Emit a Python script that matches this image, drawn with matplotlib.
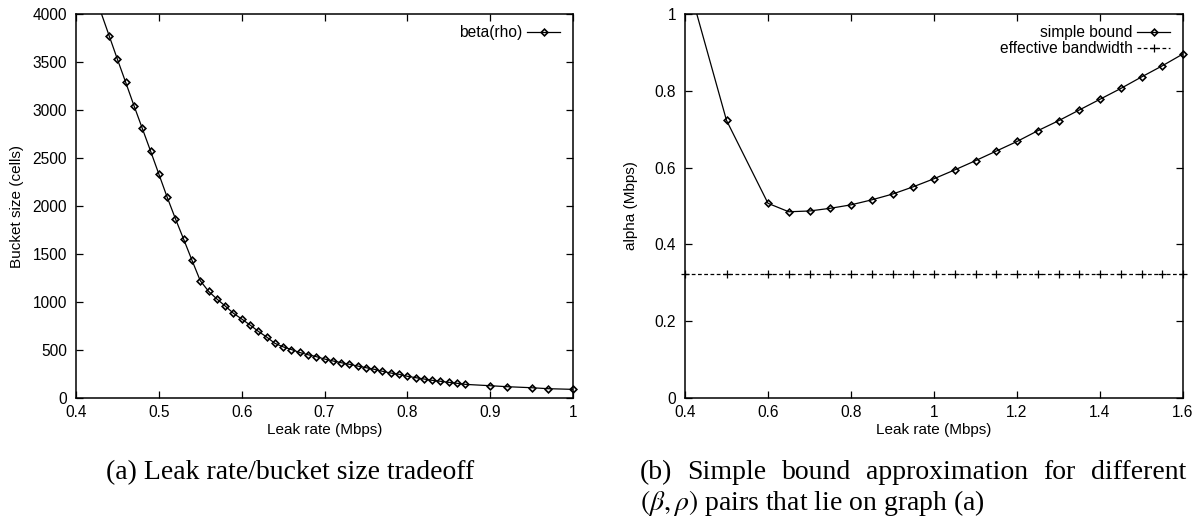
import matplotlib
matplotlib.use("Agg")
import matplotlib.pyplot as plt
import numpy as np
from matplotlib.lines import Line2D

# (a) bucket size needed for each leak rate
leak_rate_a = [0.42, 0.44, 0.45, 0.46, 0.47, 0.48, 0.49, 0.50, 0.51,
               0.52, 0.53, 0.54, 0.55, 0.56, 0.57, 0.58, 0.59, 0.60,
               0.61, 0.62, 0.63, 0.64, 0.65, 0.66, 0.67, 0.68, 0.69,
               0.70, 0.71, 0.72, 0.73, 0.74, 0.75, 0.76, 0.77, 0.78,
               0.79, 0.80, 0.81, 0.82, 0.83, 0.84, 0.85, 0.86, 0.87,
               0.90, 0.92, 0.95, 0.97, 1.00]
bucket_size = [4266, 3774, 3528, 3288, 3045, 2809, 2573, 2333, 2093,
               1868, 1653, 1435, 1222, 1112, 1032, 959, 883, 823,
               761, 695, 636, 570, 533, 505, 474, 451, 431,
               406, 386, 368, 351, 333, 316, 299, 278, 260,
               247, 226, 212, 198, 184, 174, 163, 153, 142,
               128, 118, 107, 97, 90]

# (b) simple bound vs. effective bandwidth
leak_rate_b = [0.40, 0.50, 0.60, 0.65, 0.70, 0.75, 0.80, 0.85, 0.90,
               0.95, 1.00, 1.05, 1.10, 1.15, 1.20, 1.25, 1.30, 1.35,
               1.40, 1.45, 1.50, 1.55, 1.60]
simple_bound = [1.110, 0.723, 0.507, 0.485, 0.487, 0.494, 0.503, 0.516,
                0.531, 0.550, 0.571, 0.594, 0.618, 0.643, 0.668, 0.696,
                0.722, 0.750, 0.778, 0.806, 0.836, 0.865, 0.896]
effective_bandwidth = [0.322, 0.322, 0.322, 0.322, 0.322, 0.322, 0.322,
                       0.322, 0.322, 0.322, 0.322, 0.322, 0.322, 0.322,
                       0.322, 0.322, 0.322, 0.322, 0.322, 0.322, 0.322,
                       0.322, 0.322]

xticks_a = [0.4, 0.5, 0.6, 0.7, 0.8, 0.9, 1.0]
xticklabels_a = ["0.4", "0.5", "0.6", "0.7", "0.8", "0.9", "1"]
yticks_a = [0, 500, 1000, 1500, 2000, 2500, 3000, 3500, 4000]
xticks_b = [0.4, 0.6, 0.8, 1.0, 1.2, 1.4, 1.6]
xticklabels_b = ["0.4", "0.6", "0.8", "1", "1.2", "1.4", "1.6"]
yticks_b = [0, 0.2, 0.4, 0.6, 0.8, 1.0]
yticklabels_b = ["0", "0.2", "0.4", "0.6", "0.8", "1"]

W, H = 1201, 525
plt.rcParams["font.family"] = ["Liberation Sans", "DejaVu Sans"]
plt.rcParams["mathtext.fontset"] = "stix"

fig = plt.figure(figsize=(W / 100, H / 100), dpi=100)


def px_axes(x0, y0, x1, y1):
    return fig.add_axes([x0 / W, 1 - y1 / H, (x1 - x0) / W, (y1 - y0) / H])


ax_a = px_axes(76, 14, 573, 398)
ax_b = px_axes(685, 14, 1183, 398)

tick_fs = 11.2
label_fs = 11

for ax in (ax_a, ax_b):
    ax.tick_params(direction="in", length=5, width=0.9, top=True, right=True,
                   labelsize=tick_fs, colors="black")
    ax.tick_params(axis="y", pad=6.5)
    ax.tick_params(axis="x", pad=5)
    for s in ax.spines.values():
        s.set_linewidth(1.1)

MS = 3.4
MEW = 1.2


def draw_series(ax, x, y, ymax, marker, ms, dashes=None):
    y = np.asarray(y, dtype=float)
    kw = dict(color="black", lw=0.9)
    if dashes is not None:
        kw["dashes"] = dashes
    ax.plot(x, y, **kw)
    inside = np.ma.masked_greater(y, ymax)
    ax.plot(x, inside, ls="none", marker=marker, ms=ms, mec="black",
            mfc="none", mew=MEW if marker == "D" else 0.9, clip_on=False,
            zorder=3)


# (a)
draw_series(ax_a, leak_rate_a, bucket_size, 4000, "D", MS)
ax_a.set_xlim(0.4, 1.0)
ax_a.set_ylim(0, 4000)
ax_a.set_xticks(xticks_a)
ax_a.set_xticklabels(xticklabels_a)
ax_a.set_yticks(yticks_a)
ax_a.set_xlabel("Leak rate (Mbps)", fontsize=label_fs, labelpad=2)
ax_a.set_ylabel("Bucket size (cells)", fontsize=label_fs, labelpad=6)

h_a = [Line2D([], [], color="black", lw=0.9, marker="D", ms=MS,
              mfc="none", mec="black", mew=MEW)]
ax_a.legend(h_a, ["beta(rho)"], loc="upper right", frameon=False,
            markerfirst=False, fontsize=tick_fs, handlelength=2.1,
            handletextpad=0.3, borderpad=0, borderaxespad=0,
            bbox_to_anchor=(1 - 13 / 497, 1 - 11 / 384), numpoints=1)

# (b)
draw_series(ax_b, leak_rate_b, simple_bound, 1.0, "D", MS)
draw_series(ax_b, leak_rate_b, effective_bandwidth, 1.0, "+", 5.5,
            dashes=(3, 2))
ax_b.set_xlim(0.4, 1.6)
ax_b.set_ylim(0, 1.0)
ax_b.set_xticks(xticks_b)
ax_b.set_xticklabels(xticklabels_b)
ax_b.set_yticks(yticks_b)
ax_b.set_yticklabels(yticklabels_b)
ax_b.set_xlabel("Leak rate (Mbps)", fontsize=label_fs, labelpad=2)
ax_b.set_ylabel("alpha (Mbps)", fontsize=label_fs, labelpad=12)

h_b = [Line2D([], [], color="black", lw=0.9, marker="D", ms=MS,
              mfc="none", mec="black", mew=MEW),
       Line2D([], [], color="black", lw=0.9, dashes=(3, 2), marker="+",
              ms=5.5, mec="black", mew=0.9)]
ax_b.legend(h_b, ["simple bound", "effective bandwidth"], loc="upper right",
            frameon=False, markerfirst=False, fontsize=tick_fs,
            handlelength=2.1, handletextpad=0.3, borderpad=0,
            borderaxespad=0, labelspacing=0.08,
            bbox_to_anchor=(1 - 13 / 498, 1 - 11 / 384), numpoints=1)

# captions
cap_fs = 20
serif = ["Liberation Serif", "DejaVu Serif"]
fig.text(290.5 / W, 1 - 479 / H, "(a) Leak rate/bucket size tradeoff",
         ha="center", va="baseline", fontsize=cap_fs, family=serif)

cap_left, cap_right = 640, 1186
words = "(b) Simple bound approximation for different".split()
word_texts = [fig.text(0, 1 - 479 / H, w, ha="left", va="baseline",
                       fontsize=cap_fs, family=serif) for w in words]
fig.text(cap_left / W, 1 - 510 / H,
         r"$(\beta, \rho)$ pairs that lie on graph (a)",
         ha="left", va="baseline", fontsize=cap_fs, family=serif)

fig.canvas.draw()
renderer = fig.canvas.get_renderer()
widths = [t.get_window_extent(renderer).width for t in word_texts]
gap = (cap_right - cap_left - sum(widths)) / (len(words) - 1)
xpos = cap_left
for t, w in zip(word_texts, widths):
    t.set_x(xpos / W)
    xpos += w + gap

fig.savefig("out.png", dpi=100, facecolor="white")
